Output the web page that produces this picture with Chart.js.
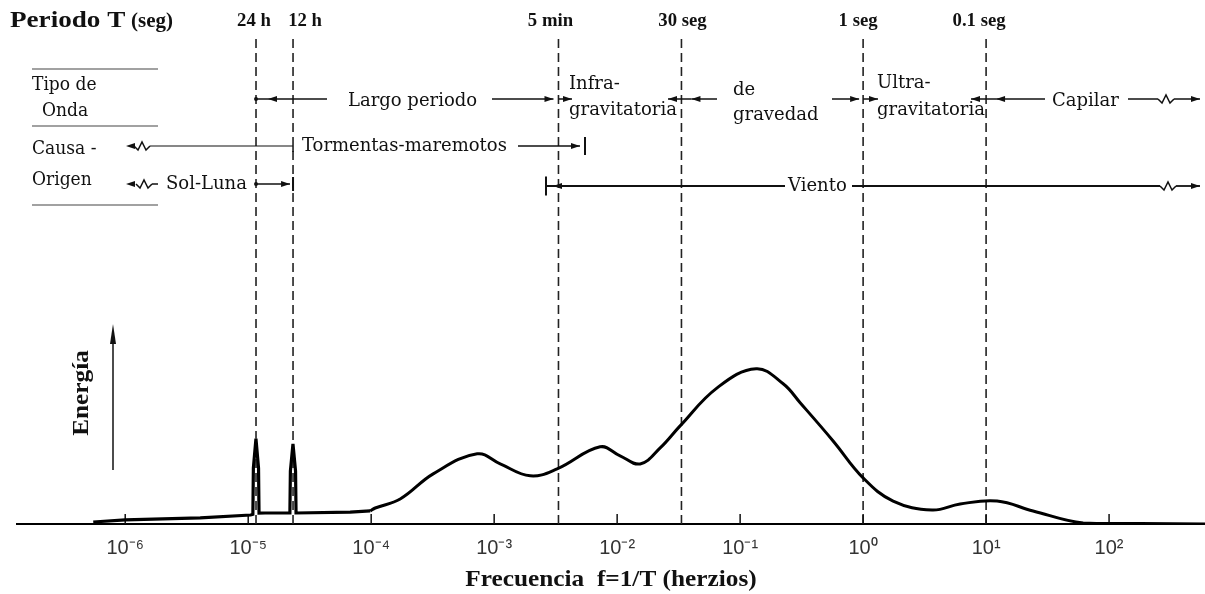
<!DOCTYPE html>
<html>
<head>
<meta charset="utf-8">
<script src="https://cdn.jsdelivr.net/npm/chart.js@4.4.1/dist/chart.umd.min.js"></script>
<style>
    html, body { margin: 0; padding: 0; background: #fff; }
    #chart { display: block; }
</style>
</head>
<body>
<canvas id="chart" width="1205" height="594"></canvas>
<script>
// ============================================================
//  Data (x = log10 frecuencia, y = energía relativa)
// ============================================================

const periodLabels  = ["24 h", "12 h", "5 min", "30 seg", "1 seg", "0.1 seg"];
const periodSeconds = [86400, 43200, 300, 30, 1, 0.1];

const tickExponents = [-6, -5, -4, -3, -2, -1, 0, 1, 2];
const tickLabels    = ["10⁻⁶", "10⁻⁵", "10⁻⁴", "10⁻³", "10⁻²", "10⁻¹", "10⁰", "10¹", "10²"];

// parte de largo periodo (mareas) con los dos picos
const tideLogF   = [-6.26, -6.0, -5.39, -4.98, -4.962, -4.958, -4.937, -4.916, -4.912, -4.862, -4.661, -4.657, -4.636, -4.615, -4.611, -4.171, -4.008];
const tideEnergy = [1.3, 2.6, 3.9, 5.8, 6.2, 36, 55, 36, 7.0, 7.1, 7.1, 34, 51.6, 34, 7.1, 7.7, 8.4];

// espectro continuo
const waveLogF   = [-4.008, -3.967, -3.764, -3.496, -3.138, -2.951, -2.707, -2.488, -2.138, -1.976, -1.813, -1.650, -1.488, -1.187, -0.870, -0.650, -0.512, -0.244, 0, 0.244, 0.561, 0.789, 1.089, 1.382, 1.789, 2.252, 2.78];
const waveEnergy = [8.4, 10.3, 16.1, 32.3, 45.2, 38.7, 31.0, 35.5, 49.7, 43.9, 38.7, 49.0, 63.2, 87.7, 100, 90.3, 78.1, 53.5, 29.7, 14.8, 9.0, 12.9, 14.8, 8.4, 0.6, 0.3, 0];

const toPoints = (xs, ys) => xs.map((x, i) => ({ x, y: ys[i] }));

// contorno blanco dentro de los picos de marea
const spikePoints = tideLogF.map((x, i) => ({ x, y: (i >= 4 && i <= 8) || (i >= 10 && i <= 14) ? tideEnergy[i] : null }));

const SERIF = "'Liberation Serif', 'Times New Roman', serif";
const SLAB  = "'DejaVu Serif', serif";

// ============================================================
//  Drawing helpers
// ============================================================

function head(ctx, x, y, dir, len = 9, w = 3) {
    ctx.beginPath();
    ctx.moveTo(x, y);
    ctx.lineTo(x - dir * len, y - w);
    ctx.lineTo(x - dir * len, y + w);
    ctx.closePath();
    ctx.fill();
}

function line(ctx, x0, y0, x1, y1, w = 1.5) {
    ctx.lineWidth = w;
    ctx.beginPath();
    ctx.moveTo(x0, y0);
    ctx.lineTo(x1, y1);
    ctx.stroke();
}

function arrow(ctx, x0, y, x1, w = 1.5) {
    line(ctx, x0, y, x1, y, w);
    head(ctx, x1, y, x1 > x0 ? 1 : -1);
}

function bar(ctx, x, y, h) {
    line(ctx, x, y - h / 2, x, y + h / 2, 2);
}

function dot(ctx, x, y) {
    ctx.beginPath();
    ctx.arc(x, y, 2, 0, Math.PI * 2);
    ctx.fill();
}

function squiggle(ctx, x, y) {
    ctx.lineWidth = 1.5;
    ctx.beginPath();
    ctx.moveTo(x, y);
    ctx.lineTo(x + 4, y + 4);
    ctx.lineTo(x + 8, y - 4);
    ctx.lineTo(x + 12, y + 4);
    ctx.lineTo(x + 16, y);
    ctx.stroke();
}

// texto con estiramiento horizontal opcional (sx)
function text(ctx, s, x, y, font, align = "left", sx = 1) {
    ctx.save();
    ctx.font = font;
    ctx.textAlign = align;
    ctx.textBaseline = "middle";
    ctx.translate(x, y);
    ctx.scale(sx, 1);
    ctx.fillText(s, 0, 0);
    ctx.restore();
}

// ============================================================
//  Plugin: dashed period lines + annotations
// ============================================================

const annotations = {
    id: "annotations",
    beforeDatasetsDraw(chart) {
        const { ctx, chartArea, scales } = chart;
        const xs = scales.x;
        ctx.save();
        ctx.strokeStyle = "#222";
        ctx.lineWidth = 1.6;
        ctx.setLineDash([9, 5]);
        periodSeconds.forEach(T => {
            const px = xs.getPixelForValue(-Math.log10(T));
            ctx.beginPath();
            ctx.moveTo(px, 39);
            ctx.lineTo(px, chartArea.bottom);
            ctx.stroke();
        });
        ctx.setLineDash([]);
        // marcas de escala hacia arriba
        ctx.strokeStyle = "#111";
        tickExponents.forEach(e => {
            const px = xs.getPixelForValue(e);
            line(ctx, px, chartArea.bottom, px, chartArea.bottom - 10, 1.5);
        });
        ctx.restore();
    },
    afterDraw(chart) {
        const { ctx, scales, chartArea } = chart;
        const xs = scales.x;
        const L = periodSeconds.map(T => xs.getPixelForValue(-Math.log10(T)));
        const [L24, L12, L5m, L30, L1, L01] = L;

        ctx.save();
        ctx.fillStyle = "#111";
        ctx.strokeStyle = "#111";

        // cabecera
        text(ctx, "Periodo T", 10, 21, `bold 23px ${SERIF}`, "left", 1.18);
        text(ctx, "(seg)", 131, 22, `bold 20px ${SERIF}`, "left", 1.05);
        const labelShift = [-2, 12, -8, 1, -5, -7];
        periodLabels.forEach((s, i) => text(ctx, s, L[i] + labelShift[i], 21, `bold 18px ${SERIF}`, "center", 1.04));

        // tabla izquierda
        ctx.strokeStyle = "#444";
        [69, 126, 205].forEach(y => line(ctx, 32, y, 158, y, 1.2));
        ctx.strokeStyle = "#111";
        const lf = `18px ${SLAB}`;
        text(ctx, "Tipo de", 32, 85, lf, "left", 0.95);
        text(ctx, "Onda", 42, 111, lf, "left", 0.95);
        text(ctx, "Causa -", 32, 149, lf, "left", 0.95);
        text(ctx, "Origen", 32, 180, lf, "left", 0.95);

        // fila: tipo de onda
        const yT = 99;
        const mf = `18px ${SLAB}`;
        dot(ctx, L24, yT);
        arrow(ctx, 327, yT, L24 + 12);
        line(ctx, L24 + 12, yT, L24, yT, 1.5);
        text(ctx, "Largo periodo", 348, 101, mf);
        arrow(ctx, 492, yT, L5m - 5);
        arrow(ctx, L5m, yT, 572);
        text(ctx, "Infra-", 569, 84, mf);
        text(ctx, "gravitatoria", 569, 110, mf);
        arrow(ctx, 717, yT, L30 + 10);
        line(ctx, L30 + 10, yT, L30, yT);
        arrow(ctx, L30, yT, 668);
        text(ctx, "de", 733, 90, mf);
        text(ctx, "gravedad", 733, 115, mf);
        arrow(ctx, 832, yT, L1 - 4);
        arrow(ctx, L1, yT, 878);
        text(ctx, "Ultra-", 877, 83, mf);
        text(ctx, "gravitatoria", 877, 110, mf);
        arrow(ctx, L01, yT, 971);
        arrow(ctx, 1045, yT, L01 + 10);
        line(ctx, L01 + 10, yT, L01, yT);
        text(ctx, "Capilar", 1052, 101, mf);
        line(ctx, 1128, yT, 1158, yT);
        squiggle(ctx, 1158, yT);
        arrow(ctx, 1174, yT, 1200);

        // fila: tormentas-maremotos
        const yS = 146;
        head(ctx, 126, yS, -1);
        squiggle(ctx, 134, yS);
        line(ctx, 150, yS, L12, yS, 1.1);
        line(ctx, L12, yS, L12, yS + 6, 1.5);
        text(ctx, "Tormentas-maremotos", 302, yS, mf);
        arrow(ctx, 518, yS, 580);
        bar(ctx, 585, yS, 18);

        // fila: sol-luna
        const yL = 184;
        head(ctx, 126, yL, -1);
        squiggle(ctx, 136, yL);
        line(ctx, 152, yL, 158, yL);
        text(ctx, "Sol-Luna", 166, yL, mf);
        dot(ctx, L24, yL);
        arrow(ctx, L24, yL, L12 - 3);
        bar(ctx, L12, yL, 14);

        // fila: viento
        const yV = 186;
        bar(ctx, 546, yV, 19);
        line(ctx, 546, yV, 553, yV, 2);
        arrow(ctx, 785, yV, 553, 1.8);
        text(ctx, "Viento", 788, yV, mf);
        line(ctx, 852, yV, 1160, yV, 1.8);
        squiggle(ctx, 1160, yV);
        arrow(ctx, 1176, yV, 1200, 1.8);

        // título del eje x
        text(ctx, "Frecuencia  f=1/T (herzios)", (chartArea.left + chartArea.right) / 2, 580,
             `bold 23px ${SERIF}`, "center", 1.1);

        // eje de energía
        line(ctx, 113, 470, 113, 340, 1.5);
        ctx.beginPath();
        ctx.moveTo(113, 324);
        ctx.lineTo(110, 344);
        ctx.lineTo(116, 344);
        ctx.closePath();
        ctx.fill();
        ctx.translate(82, 393);
        ctx.rotate(-Math.PI / 2);
        text(ctx, "Energía", 0, 0, `bold 23px ${SERIF}`, "center", 1.1);
        ctx.restore();
    },
};

// ============================================================
//  Chart
// ============================================================

new Chart(document.getElementById("chart"), {
    type: "line",
    data: {
        datasets: [
            {
                data: toPoints(tideLogF, tideEnergy),
                borderColor: "#000",
                borderWidth: 3.2,
                tension: 0,
                pointRadius: 0,
            },
            {
                data: spikePoints,
                borderColor: "#fff",
                borderWidth: 1.2,
                tension: 0,
                pointRadius: 0,
                spanGaps: false,
            },
            {
                data: toPoints(waveLogF, waveEnergy),
                borderColor: "#000",
                borderWidth: 3,
                tension: 0.4,
                pointRadius: 0,
            },
        ],
    },
    options: {
        responsive: false,
        animation: false,
        devicePixelRatio: 1,
        layout: { padding: { left: 17, right: 0, top: 38, bottom: 22 } },
        plugins: { legend: { display: false }, tooltip: { enabled: false } },
        scales: {
            x: {
                type: "linear",
                min: -6.88,
                max: 2.78,
                afterBuildTicks: scale => { scale.ticks = tickExponents.map(v => ({ value: v })); },
                grid: { display: false, drawTicks: false },
                border: { display: true, color: "#000", width: 2 },
                ticks: {
                    padding: 12,
                    color: "#333",
                    font: { family: "'Liberation Sans', sans-serif", size: 20 },
                    callback: v => tickLabels[tickExponents.indexOf(v)],
                    maxRotation: 0,
                },
                title: { display: false },
            },
            y: {
                display: false,
                min: 0,
                max: 313,
            },
        },
    },
    plugins: [annotations],
});
</script>
</body>
</html>
